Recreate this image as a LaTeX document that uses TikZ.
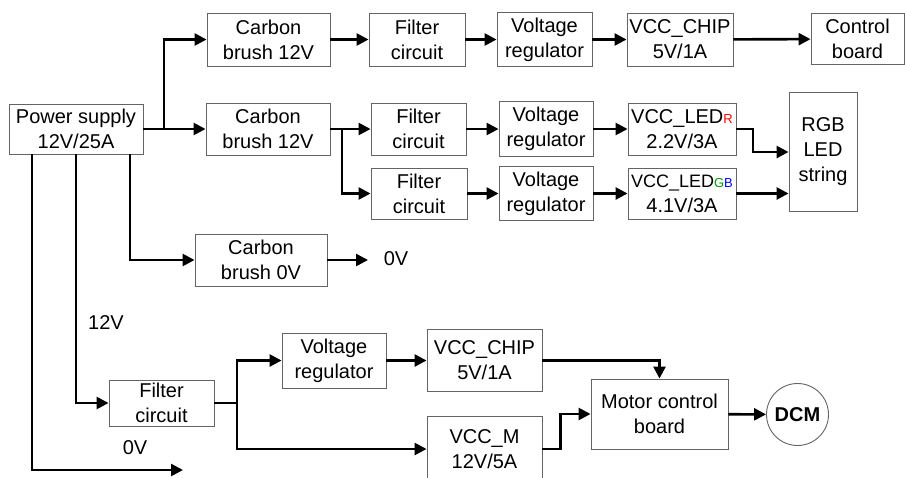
\documentclass[tikz,border=0pt]{standalone}
\usepackage{fontspec}
\setmainfont{Liberation Sans}
\usetikzlibrary{arrows.meta}
\definecolor{boxline}{RGB}{100,100,100}
\begin{document}
\begin{tikzpicture}[x=1pt,y=-1pt,
  blk/.style={draw=boxline, line width=0.9pt, fill=white, inner sep=0pt, align=center,
    font=\fontsize{20}{25}\selectfont},
  arr/.style={line width=2.6pt, -{Triangle[length=12pt,width=12pt]}},
  ln/.style={line width=2.6pt},
  lbl/.style={inner sep=0pt, font=\fontsize{20}{25}\selectfont}]
\useasboundingbox (0,0) rectangle (905,477);
\clip (0,0) rectangle (905,477);
% nodes
\node[blk, minimum width=134pt, minimum height=50pt] (ps) at (76,129) {Power supply\\12V/25A};
\node[blk, minimum width=123pt, minimum height=53pt] (cb1) at (268.5,39.5) {Carbon\\brush 12V};
\node[blk, minimum width=96pt, minimum height=53pt] (f1) at (417,39.5) {Filter\\circuit};
\node[blk, minimum width=95pt, minimum height=54pt] (vr1) at (544.5,39.5) {Voltage\\regulator};
\node[blk, minimum width=106pt, minimum height=53pt] (chip1) at (680,39.5) {VCC\_CHIP\\5V/1A};
\node[blk, minimum width=93pt, minimum height=51pt] (ctrl) at (857.5,39) {Control\\board};
\node[blk, minimum width=124pt, minimum height=52pt] (cb2) at (268,129) {Carbon\\brush 12V};
\node[blk, minimum width=95pt, minimum height=52pt] (f2a) at (418.5,129) {Filter\\circuit};
\node[blk, minimum width=94pt, minimum height=55pt] (vr2a) at (546,129) {Voltage\\regulator};
\node[blk, minimum width=108pt, minimum height=52pt] (ledr) at (682,129) {VCC\_LED{\fontsize{13}{13}\selectfont\color{red}R}\\2.2V/3A};
\node[blk, minimum width=68pt, minimum height=119pt] (rgb) at (823,151.5) {RGB\\LED\\string};
\node[blk, minimum width=96pt, minimum height=51pt] (f2b) at (419,193.5) {Filter\\circuit};
\node[blk, minimum width=94pt, minimum height=54pt] (vr2b) at (546,193.5) {Voltage\\regulator};
\node[blk, minimum width=108pt, minimum height=51pt] (ledgb) at (682,193.5) {{\fontsize{18}{18}\selectfont VCC\_LED}{\fontsize{13}{13}\selectfont\color{green!60!black}G\color{blue}B}\\4.1V/3A};
\node[blk, minimum width=132pt, minimum height=52pt] (cb0) at (261,260) {Carbon\\brush 0V};
\node[blk, minimum width=105pt, minimum height=46pt] (f3) at (161.5,403) {Filter\\circuit};
\node[blk, minimum width=104pt, minimum height=55pt] (vr3) at (334,360.5) {Voltage\\regulator};
\node[blk, minimum width=115pt, minimum height=62pt] (chip3) at (484.5,360.5) {VCC\_CHIP\\5V/1A};
\node[blk, minimum width=115pt, minimum height=66pt] (vccm) at (484.5,449) {VCC\_M\\12V/5A};
\node[blk, minimum width=137pt, minimum height=70pt] (mcb) at (659.5,414) {Motor control\\board};
\node[blk, circle, minimum size=62pt, font=\fontsize{20}{25}\selectfont\bfseries] (dcm) at (797.5,414.5) {DCM};
% labels
\node[lbl] (v0a) at (396,259) {0V};
\node[lbl] (v12) at (106,323) {12V};
\node[lbl] (v0b) at (135,448) {0V};
\coordinate (z0) at (368,260);
\coordinate (g0) at (183,470);
% top connectors
\coordinate (j1) at (164,129);
\draw[arr] (ps.east) -- (cb2.west);
\draw[arr] (j1) |- (cb1.west);
\draw[arr] (cb1) -- (f1);
\draw[arr] (f1) -- (vr1);
\draw[arr] (vr1) -- (chip1);
\draw[arr] (chip1) -- (ctrl);
\coordinate (j2) at (342,129);
\draw[arr] (cb2) -- (f2a);
\draw[arr] (j2) |- (f2b.west);
\draw[arr] (f2a) -- (vr2a);
\draw[arr] (vr2a) -- (ledr);
\draw[arr] (f2b) -- (vr2b);
\draw[arr] (vr2b) -- (ledgb);
\coordinate (r1) at (753,152);
\draw[arr] (ledr.east) -| (r1) -- (r1 -| rgb.west);
\draw[arr] (ledgb.east) -- (ledgb.east -| rgb.west);
% power supply downward
\draw[arr] ([xshift=54pt]ps.south) |- (cb0.west);
\draw[arr] (cb0.east) -- (z0);
\draw[arr] (ps.south) |- (f3.west);
\draw[arr] ([xshift=-44pt]ps.south) |- (g0);
% bottom branch
\coordinate (j3) at (237,403);
\draw[ln] (f3.east) -- (j3);
\draw[arr] (j3) |- (vr3.west);
\draw[arr] (j3) |- (vccm.west);
\draw[arr] (vr3) -- (chip3);
\draw[arr] (chip3.east) -| (mcb.north);
\draw[arr] (vccm.east) -- ++(18,0) |- (mcb.west);
\draw[arr] (mcb) -- (dcm);
\end{tikzpicture}
\end{document}
